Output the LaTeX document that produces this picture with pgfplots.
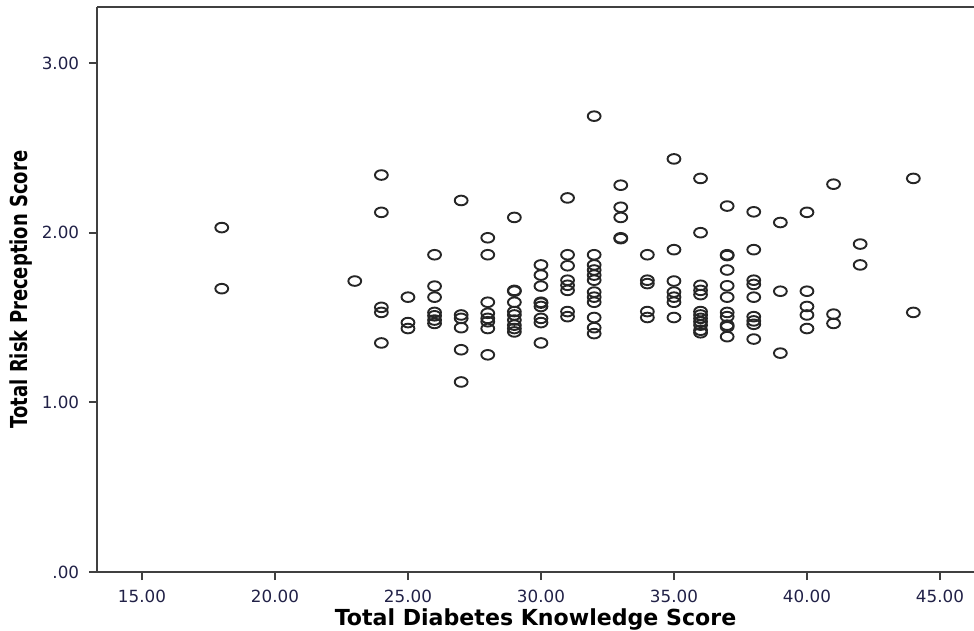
\documentclass[border=0pt]{standalone}
\usepackage{pgfplots}
\pgfplotsset{compat=1.18}
\usepackage{fontspec}
\setmainfont{DejaVu Sans}
\definecolor{ticknavy}{rgb}{0.13,0.13,0.28}
\definecolor{axgray}{rgb}{0.25,0.25,0.25}
\begin{document}
\begin{tikzpicture}
\begin{axis}[
  scale only axis,
  width=345.3pt, height=222.4pt,
  xmin=13.31, xmax=46.28, ymin=0, ymax=3.33,
  axis x line=box, axis y line=left,
  axis line style={axgray, line width=0.8pt, -},
  xtick={15,20,25,30,35,40,45},
  xticklabels={15.00,20.00,25.00,30.00,35.00,40.00,45.00},
  ytick={0,1,2,3},
  yticklabels={.00,1.00,2.00,3.00},
  xtick pos=bottom, ytick pos=left,
  tick align=outside,
  major tick length=3.2pt,
  tick style={axgray, line width=0.8pt},
  ticklabel style={font=\fontsize{6.6}{8}\selectfont, text=ticknavy},
  xticklabel style={yshift=-0.5pt},
  yticklabel style={xshift=-0.3pt},
  xlabel={\textbf{Total Diabetes Knowledge Score}},
  ylabel={\scalebox{0.77}[1]{\bfseries Total Risk Preception Score}},
  xlabel style={font=\fontsize{8.7}{10}\selectfont, yshift=4.6pt},
  ylabel style={font=\fontsize{9.2}{11}\selectfont, yshift=-3pt},
  clip=false,
]
\addplot[only marks, mark=o, mark size=1.9pt,
  mark options={xscale=1.33, line width=0.75pt, draw=black!85}]
table {
x y
18 2.03
18 1.67
23 1.715
24 2.34
24 2.12
24 1.56
24 1.53
24 1.35
25 1.62
25 1.47
25 1.435
26 1.87
26 1.685
26 1.62
26 1.53
26 1.51
26 1.485
26 1.465
27 2.19
27 1.515
27 1.495
27 1.44
27 1.31
27 1.12
28 1.97
28 1.87
28 1.59
28 1.525
28 1.495
28 1.475
28 1.435
28 1.28
29 2.09
29 1.66
29 1.655
29 1.59
29 1.535
29 1.515
29 1.485
29 1.455
29 1.435
29 1.415
30 1.81
30 1.75
30 1.685
30 1.59
30 1.565
30 1.585
30 1.495
30 1.47
30 1.35
31 2.205
31 1.87
31 1.805
31 1.72
31 1.69
31 1.66
31 1.535
31 1.505
32 2.687
32 1.87
32 1.81
32 1.78
32 1.75
32 1.72
32 1.65
32 1.62
32 1.59
32 1.50
32 1.44
32 1.405
33 2.28
33 2.15
33 2.09
33 1.97
33 1.965
34 1.87
34 1.72
34 1.70
34 1.535
34 1.50
35 2.435
35 1.90
35 1.715
35 1.65
35 1.62
35 1.59
35 1.50
36 2.32
36 2.00
36 1.69
36 1.66
36 1.635
36 1.535
36 1.515
36 1.495
36 1.475
36 1.455
36 1.425
36 1.41
37 2.157
37 1.87
37 1.865
37 1.78
37 1.687
37 1.62
37 1.53
37 1.505
37 1.455
37 1.445
37 1.387
38 2.123
38 1.90
38 1.72
38 1.695
38 1.62
38 1.505
38 1.48
38 1.46
38 1.373
39 2.06
39 1.655
39 1.29
40 2.12
40 1.655
40 1.565
40 1.515
40 1.435
41 2.286
41 1.52
41 1.465
42 1.933
42 1.81
44 2.32
44 1.53
};
\end{axis}
\pgfresetboundingbox
\path[use as bounding box] (-38.2pt,-23.2pt) rectangle (345.3pt,225.2pt);
\end{tikzpicture}
\end{document}
